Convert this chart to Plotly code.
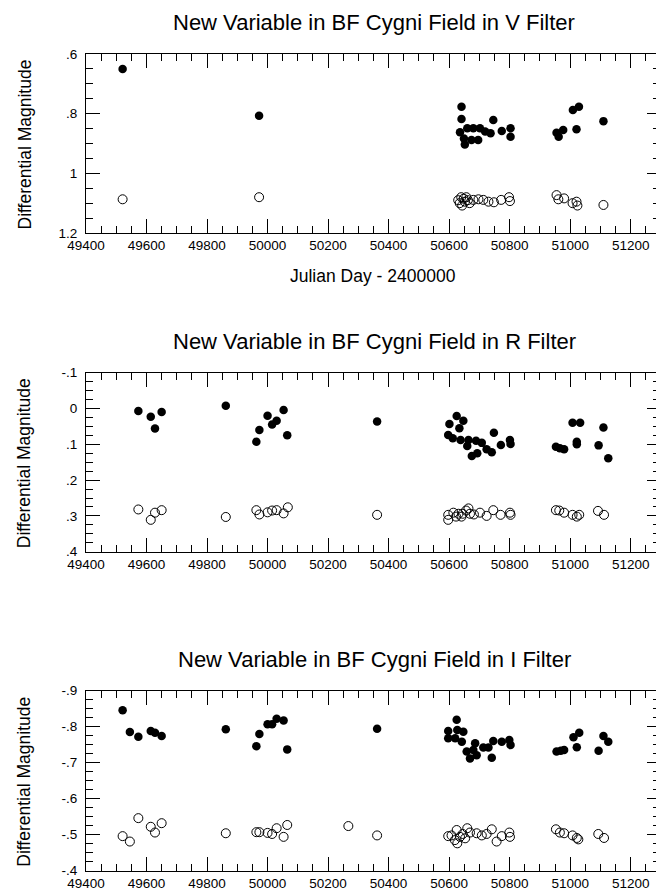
import plotly.graph_objects as go

# ---------------- data (Julian Day - 2400000, differential magnitude) ----------------
v_var_jd = [49521, 49972, 50641, 50641, 50636, 50649, 50652, 50660, 50674, 50680, 50696,
            50702, 50719, 50737, 50746, 50774, 50803, 50803, 50955, 50962, 50977, 51009,
            51029, 51021, 51110]
v_var_mag = [0.650, 0.807, 0.777, 0.818, 0.862, 0.883, 0.903, 0.849, 0.888, 0.849, 0.888,
             0.849, 0.860, 0.866, 0.821, 0.858, 0.849, 0.877, 0.864, 0.877, 0.855, 0.788,
             0.777, 0.852, 0.825]
v_cmp_jd = [49521, 49972, 50630, 50635, 50640, 50643, 50648, 50652, 50657, 50662, 50668,
            50680, 50697, 50713, 50730, 50748, 50772, 50798, 50801, 50955, 50961, 50980,
            51008, 51021, 51024, 51110]
v_cmp_mag = [1.087, 1.080, 1.090, 1.100, 1.080, 1.108, 1.085, 1.095, 1.080, 1.090, 1.100,
             1.089, 1.087, 1.089, 1.095, 1.097, 1.089, 1.080, 1.093, 1.073, 1.087, 1.084,
             1.100, 1.095, 1.108, 1.106]

r_var_jd = [49573, 49614, 49628, 49650, 49862, 49963, 49973, 50000, 50015, 50030, 50053,
            50065, 50362, 50625, 50601, 50647, 50634, 50597, 50612, 50638, 50660, 50664,
            50689, 50708, 50675, 50693, 50724, 50741, 50748, 50771, 50801, 50803, 50953,
            50966, 50980, 51008, 51033, 51022, 51022, 51110, 51094, 51126]
r_var_mag = [0.007, 0.023, 0.056, 0.010, -0.008, 0.093, 0.060, 0.020, 0.045, 0.034, 0.004,
             0.075, 0.036, 0.021, 0.043, 0.034, 0.055, 0.074, 0.083, 0.088, 0.105, 0.088,
             0.090, 0.096, 0.133, 0.125, 0.114, 0.122, 0.068, 0.102, 0.088, 0.099, 0.107,
             0.111, 0.114, 0.040, 0.040, 0.093, 0.100, 0.053, 0.103, 0.139]
r_cmp_jd = [49573, 49614, 49628, 49650, 49862, 49963, 49973, 50000, 50015, 50030, 50053,
            50067, 50362, 50597, 50597, 50614, 50623, 50631, 50641, 50645, 50656, 50664,
            50669, 50682, 50702, 50724, 50746, 50770, 50801, 50803, 50953, 50964, 50980,
            51008, 51022, 51030, 51092, 51112]
r_cmp_mag = [0.282, 0.311, 0.291, 0.284, 0.303, 0.284, 0.296, 0.290, 0.285, 0.284, 0.293,
             0.276, 0.297, 0.297, 0.311, 0.291, 0.302, 0.294, 0.302, 0.294, 0.285, 0.279,
             0.294, 0.296, 0.291, 0.300, 0.284, 0.297, 0.291, 0.297, 0.284, 0.285, 0.291,
             0.297, 0.302, 0.297, 0.286, 0.297]

i_var_jd = [49521, 49545, 49573, 49614, 49628, 49650, 49862, 49963, 49973, 50000, 50015,
            50030, 50053, 50065, 50362, 50625, 50627, 50597, 50597, 50647, 50620, 50642,
            50686, 50658, 50669, 50691, 50713, 50730, 50741, 50746, 50774, 50799, 50803,
            50680, 50955, 50969, 50980, 51011, 51030, 51022, 51094, 51110, 51126]
i_var_mag = [-0.846, -0.785, -0.772, -0.788, -0.783, -0.774, -0.793, -0.746, -0.780, -0.807,
             -0.807, -0.822, -0.817, -0.737, -0.794, -0.819, -0.791, -0.788, -0.768, -0.786,
             -0.768, -0.758, -0.754, -0.731, -0.712, -0.721, -0.742, -0.742, -0.714, -0.760,
             -0.758, -0.763, -0.749, -0.735, -0.731, -0.733, -0.735, -0.771, -0.783, -0.743,
             -0.733, -0.774, -0.758]
i_cmp_jd = [49521, 49545, 49573, 49614, 49628, 49650, 49862, 49963, 49973, 50000, 50015,
            50030, 50053, 50065, 50267, 50362, 50597, 50608, 50619, 50625, 50627, 50636,
            50645, 50653, 50660, 50669, 50691, 50708, 50724, 50741, 50757, 50774, 50799,
            50801, 50953, 50966, 50980, 51008, 51022, 51027, 51093, 51112]
i_cmp_mag = [-0.496, -0.481, -0.546, -0.522, -0.506, -0.532, -0.504, -0.507, -0.507, -0.505,
             -0.502, -0.518, -0.494, -0.527, -0.524, -0.498, -0.496, -0.498, -0.485, -0.513,
             -0.476, -0.494, -0.502, -0.490, -0.518, -0.506, -0.504, -0.498, -0.502, -0.515,
             -0.481, -0.496, -0.506, -0.494, -0.515, -0.506, -0.504, -0.498, -0.491, -0.487,
             -0.502, -0.491]

titles = ["New Variable in BF Cygni Field in V Filter",
          "New Variable in BF Cygni Field in R Filter",
          "New Variable in BF Cygni Field in I Filter"]
x_title = "Julian Day - 2400000"
y_title = "Differential Magnitude"

# y-axis: (tick0, major step, minor step, range bottom->top, label aliases)
y_axes = [
    (0.6, 0.2, 0.05, [1.2, 0.6],
     {"0.6": ".6", "0.8": ".8", "1": "1", "1.2": "1.2"}),
    (-0.1, 0.1, 0.025, [0.4, -0.1],
     {"\u22120.1": "-.1", "0": "0", "0.1": ".1", "0.2": ".2", "0.3": ".3", "0.4": ".4"}),
    (-0.9, 0.1, 0.025, [-0.4, -0.9],
     {"\u22120.9": "-.9", "\u22120.8": "-.8", "\u22120.7": "-.7", "\u22120.6": "-.6",
      "\u22120.5": "-.5", "\u22120.4": "-.4"}),
]

# ---------------- figure ----------------
W, H = 656, 893
ML = 86
FONT = "Liberation Sans, Arial, sans-serif"
panels_px = [(54, 233), (372.7, 551.7), (690.7, 870.7)]  # page pixels: top, bottom
x_range = [49400, 51283.7]


def py(p):
    return 1 - p / H


def px(p):
    return (p - ML) / (W - ML)


fig = go.Figure()
series = [(v_var_jd, v_var_mag, v_cmp_jd, v_cmp_mag),
          (r_var_jd, r_var_mag, r_cmp_jd, r_cmp_mag),
          (i_var_jd, i_var_mag, i_cmp_jd, i_cmp_mag)]

for k, (vx, vy, cx, cy) in enumerate(series):
    xa = "x" if k == 0 else f"x{k+1}"
    ya = "y" if k == 0 else f"y{k+1}"
    fig.add_trace(go.Scatter(x=cx, y=cy, mode="markers", xaxis=xa, yaxis=ya,
                             marker=dict(symbol="circle-open", size=9, color="black",
                                         line=dict(width=1, color="black")),
                             showlegend=False, hoverinfo="x+y"))
    fig.add_trace(go.Scatter(x=vx, y=vy, mode="markers", xaxis=xa, yaxis=ya,
                             marker=dict(symbol="circle", size=8.5, color="black",
                                         line=dict(width=0)),
                             showlegend=False, hoverinfo="x+y"))
    # empty trace that carries the right-hand tick axis
    fig.add_trace(go.Scatter(x=[None], y=[None], mode="markers", xaxis=xa, yaxis=f"y{k+4}",
                             showlegend=False, hoverinfo="skip"))

layout = dict(width=W, height=H, margin=dict(l=ML, r=0, t=0, b=0, autoexpand=False),
              paper_bgcolor="white", plot_bgcolor="white",
              font=dict(family=FONT, size=13.5, color="black"))

annotations = []
for k in range(3):
    top, bot = panels_px[k]
    dom = [py(bot), py(top)]
    xkey = "xaxis" if k == 0 else f"xaxis{k+1}"
    ykey = "yaxis" if k == 0 else f"yaxis{k+1}"
    yname = "y" if k == 0 else f"y{k+1}"
    xname = "x" if k == 0 else f"x{k+1}"
    t0, dt, mdt, yr, alias = y_axes[k]
    layout[xkey] = dict(domain=[0, 1], anchor=yname, range=x_range,
                        tickmode="linear", tick0=49400, dtick=200, tickformat="d",
                        ticks="inside", ticklen=14, tickcolor="black",
                        minor=dict(ticks="inside", ticklen=7, dtick=50, tickcolor="black"),
                        showline=True, linecolor="black", mirror="ticks",
                        showgrid=False, zeroline=False,
                        tickfont=dict(family=FONT, size=13.5, color="black"))
    layout[ykey] = dict(domain=dom, anchor=xname, range=yr,
                        tickmode="linear", tick0=t0, dtick=dt, labelalias=alias,
                        ticks="inside", ticklen=14, tickcolor="black",
                        minor=dict(ticks="inside", ticklen=7, dtick=mdt, tickcolor="black"),
                        showline=True, linecolor="black", mirror=False,
                        showgrid=False, zeroline=False, ticklabelstandoff=5,
                        tickfont=dict(family=FONT, size=13.5, color="black"))
    layout[f"yaxis{k+4}"] = dict(overlaying=yname, side="right", anchor=xname, range=yr,
                                 tickmode="linear", tick0=t0, dtick=dt, showticklabels=False,
                                 ticks="inside", ticklen=9, tickcolor="black",
                                 minor=dict(ticks="inside", ticklen=3, dtick=mdt,
                                            tickcolor="black"),
                                 showline=False, showgrid=False, zeroline=False)
    annotations.append(dict(text=titles[k], xref="paper", yref="paper",
                            x=px(374), y=py(top - 31.5),
                            xanchor="center", yanchor="middle", showarrow=False,
                            font=dict(family=FONT, size=22, color="black")))
    annotations.append(dict(text=y_title, xref="paper", yref="paper", textangle=-90,
                            x=px(24), y=py((top + bot) / 2 + 1),
                            xanchor="center", yanchor="middle", showarrow=False,
                            font=dict(family=FONT, size=17.5, color="black")))

annotations.append(dict(text=x_title, xref="paper", yref="paper",
                        x=px(373), y=py(276),
                        xanchor="center", yanchor="middle", showarrow=False,
                        font=dict(family=FONT, size=17.5, color="black")))
layout["annotations"] = annotations

fig.update_layout(**layout)
fig.write_html("out.html", config={"displayModeBar": False},
               post_script="document.body.style.margin='0px';document.body.style.overflow='hidden';")
